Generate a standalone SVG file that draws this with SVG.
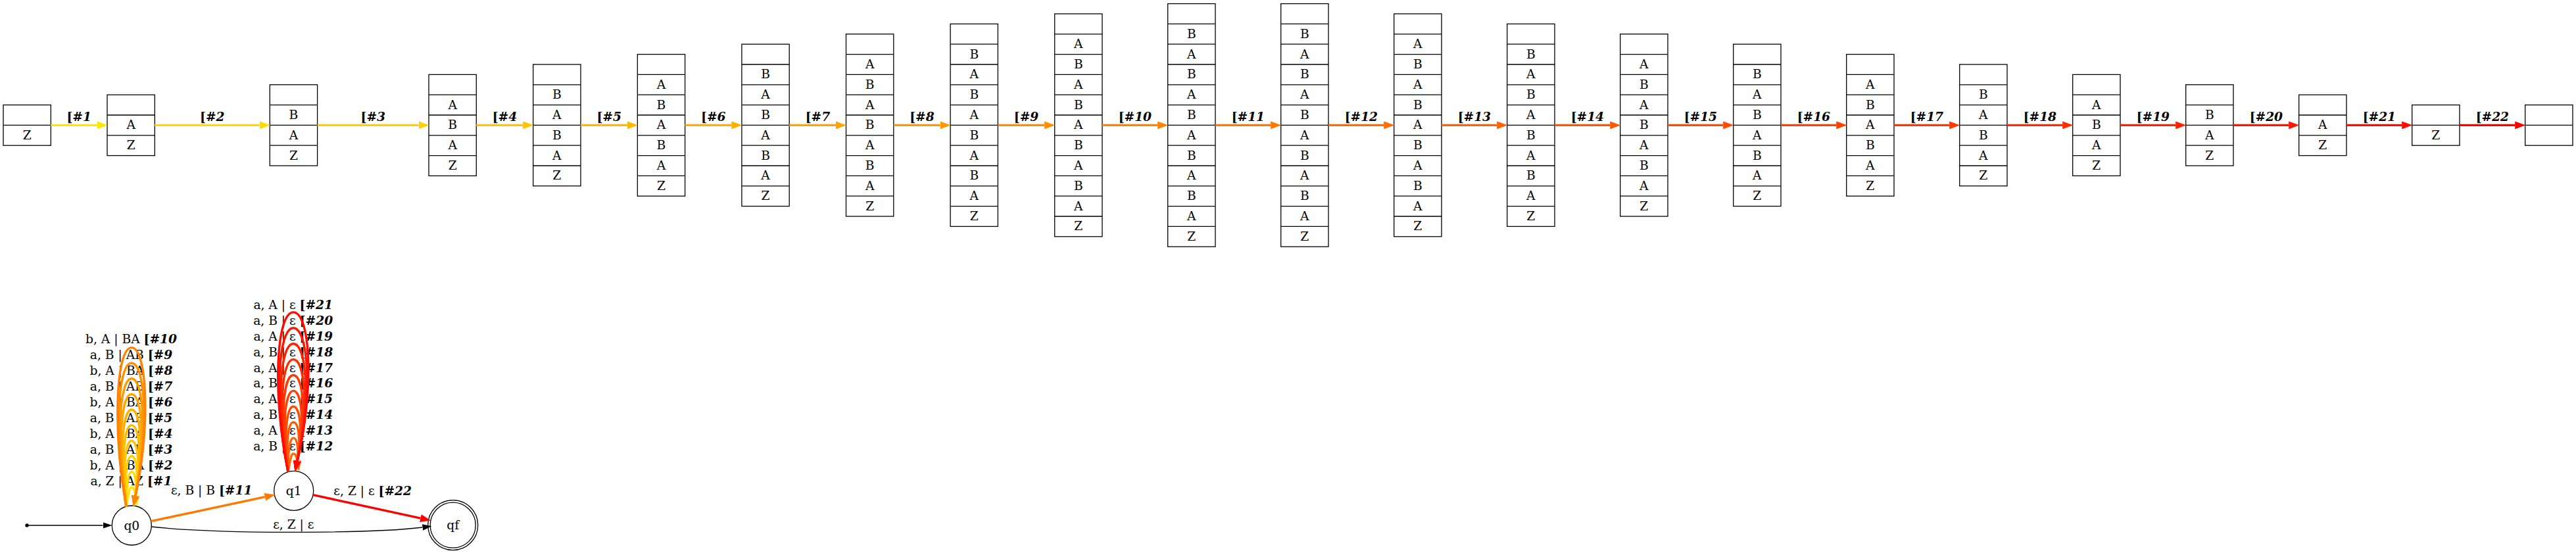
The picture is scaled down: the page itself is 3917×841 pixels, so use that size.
<svg xmlns="http://www.w3.org/2000/svg" width="3917" height="841" viewBox="0 0 3917 841">
<style>
.box{fill:none;stroke:#000;stroke-width:1.3}
.dv{fill:none;stroke:#000;stroke-width:1.3}
text{font-family:"DejaVu Serif",serif;font-size:18.67px;fill:#000}
.t{text-anchor:middle}
.b{font-weight:bold}
.bi{font-weight:bold;font-style:italic}
.e{fill:none;stroke-width:3.4}
.k{fill:none;stroke:#000;stroke-width:1.3}
.n{fill:none;stroke:#000;stroke-width:1.3}
.c1{stroke:#FFE600}.c2{stroke:#FFDB00}.c3{stroke:#FFD000}.c4{stroke:#FFC500}.c5{stroke:#FFBA00}.c6{stroke:#FFAF00}.c7{stroke:#FFA400}.c8{stroke:#FF9900}.c9{stroke:#FF8E00}.c10{stroke:#FF8300}.c11{stroke:#FF7800}
.c12{stroke:#FF6D00}.c13{stroke:#FF6200}.c14{stroke:#FF5700}.c15{stroke:#FF4C00}.c16{stroke:#FF4100}.c17{stroke:#FF3700}.c18{stroke:#FF2C00}.c19{stroke:#FF2100}.c20{stroke:#FF1600}.c21{stroke:#FF0B00}.c22{stroke:#FF0000}
</style>
<defs>
<marker id="m1" viewBox="0 0 16 12" refX="0" refY="6" markerWidth="16" markerHeight="12" markerUnits="userSpaceOnUse" orient="auto"><path d="M0,0L16,6L0,12z" fill="#FFE600"/></marker>
<marker id="m2" viewBox="0 0 16 12" refX="0" refY="6" markerWidth="16" markerHeight="12" markerUnits="userSpaceOnUse" orient="auto"><path d="M0,0L16,6L0,12z" fill="#FFDB00"/></marker>
<marker id="m3" viewBox="0 0 16 12" refX="0" refY="6" markerWidth="16" markerHeight="12" markerUnits="userSpaceOnUse" orient="auto"><path d="M0,0L16,6L0,12z" fill="#FFD000"/></marker>
<marker id="m4" viewBox="0 0 16 12" refX="0" refY="6" markerWidth="16" markerHeight="12" markerUnits="userSpaceOnUse" orient="auto"><path d="M0,0L16,6L0,12z" fill="#FFC500"/></marker>
<marker id="m5" viewBox="0 0 16 12" refX="0" refY="6" markerWidth="16" markerHeight="12" markerUnits="userSpaceOnUse" orient="auto"><path d="M0,0L16,6L0,12z" fill="#FFBA00"/></marker>
<marker id="m6" viewBox="0 0 16 12" refX="0" refY="6" markerWidth="16" markerHeight="12" markerUnits="userSpaceOnUse" orient="auto"><path d="M0,0L16,6L0,12z" fill="#FFAF00"/></marker>
<marker id="m7" viewBox="0 0 16 12" refX="0" refY="6" markerWidth="16" markerHeight="12" markerUnits="userSpaceOnUse" orient="auto"><path d="M0,0L16,6L0,12z" fill="#FFA400"/></marker>
<marker id="m8" viewBox="0 0 16 12" refX="0" refY="6" markerWidth="16" markerHeight="12" markerUnits="userSpaceOnUse" orient="auto"><path d="M0,0L16,6L0,12z" fill="#FF9900"/></marker>
<marker id="m9" viewBox="0 0 16 12" refX="0" refY="6" markerWidth="16" markerHeight="12" markerUnits="userSpaceOnUse" orient="auto"><path d="M0,0L16,6L0,12z" fill="#FF8E00"/></marker>
<marker id="m10" viewBox="0 0 16 12" refX="0" refY="6" markerWidth="16" markerHeight="12" markerUnits="userSpaceOnUse" orient="auto"><path d="M0,0L16,6L0,12z" fill="#FF8300"/></marker>
<marker id="m11" viewBox="0 0 16 12" refX="0" refY="6" markerWidth="16" markerHeight="12" markerUnits="userSpaceOnUse" orient="auto"><path d="M0,0L16,6L0,12z" fill="#FF7800"/></marker>
<marker id="m12" viewBox="0 0 16 12" refX="0" refY="6" markerWidth="16" markerHeight="12" markerUnits="userSpaceOnUse" orient="auto"><path d="M0,0L16,6L0,12z" fill="#FF6D00"/></marker>
<marker id="m13" viewBox="0 0 16 12" refX="0" refY="6" markerWidth="16" markerHeight="12" markerUnits="userSpaceOnUse" orient="auto"><path d="M0,0L16,6L0,12z" fill="#FF6200"/></marker>
<marker id="m14" viewBox="0 0 16 12" refX="0" refY="6" markerWidth="16" markerHeight="12" markerUnits="userSpaceOnUse" orient="auto"><path d="M0,0L16,6L0,12z" fill="#FF5700"/></marker>
<marker id="m15" viewBox="0 0 16 12" refX="0" refY="6" markerWidth="16" markerHeight="12" markerUnits="userSpaceOnUse" orient="auto"><path d="M0,0L16,6L0,12z" fill="#FF4C00"/></marker>
<marker id="m16" viewBox="0 0 16 12" refX="0" refY="6" markerWidth="16" markerHeight="12" markerUnits="userSpaceOnUse" orient="auto"><path d="M0,0L16,6L0,12z" fill="#FF4100"/></marker>
<marker id="m17" viewBox="0 0 16 12" refX="0" refY="6" markerWidth="16" markerHeight="12" markerUnits="userSpaceOnUse" orient="auto"><path d="M0,0L16,6L0,12z" fill="#FF3700"/></marker>
<marker id="m18" viewBox="0 0 16 12" refX="0" refY="6" markerWidth="16" markerHeight="12" markerUnits="userSpaceOnUse" orient="auto"><path d="M0,0L16,6L0,12z" fill="#FF2C00"/></marker>
<marker id="m19" viewBox="0 0 16 12" refX="0" refY="6" markerWidth="16" markerHeight="12" markerUnits="userSpaceOnUse" orient="auto"><path d="M0,0L16,6L0,12z" fill="#FF2100"/></marker>
<marker id="m20" viewBox="0 0 16 12" refX="0" refY="6" markerWidth="16" markerHeight="12" markerUnits="userSpaceOnUse" orient="auto"><path d="M0,0L16,6L0,12z" fill="#FF1600"/></marker>
<marker id="m21" viewBox="0 0 16 12" refX="0" refY="6" markerWidth="16" markerHeight="12" markerUnits="userSpaceOnUse" orient="auto"><path d="M0,0L16,6L0,12z" fill="#FF0B00"/></marker>
<marker id="m22" viewBox="0 0 16 12" refX="0" refY="6" markerWidth="16" markerHeight="12" markerUnits="userSpaceOnUse" orient="auto"><path d="M0,0L16,6L0,12z" fill="#FF0000"/></marker>
<marker id="mk" viewBox="0 0 14 9.4" refX="0" refY="4.7" markerWidth="14" markerHeight="9.4" markerUnits="userSpaceOnUse" orient="auto"><path d="M0,0L14,4.7L0,9.4z" fill="#000"/></marker>
</defs>
<rect width="3917" height="841" fill="#fff"/>

<g id="stacks">
<g id="st1" transform="translate(5,159.6)"><rect class="box" width="72.3" height="61.6"/><path class="dv" d="M0,30.8h72.3"/><text class="t" x="36.15" y="52.2">Z</text></g>
<g id="st2" transform="translate(163,144.2)"><rect class="box" width="72.3" height="92.4"/><path class="dv" d="M0,30.8h72.3M0,61.6h72.3"/><text class="t" x="36.15" y="52.2">A</text><text class="t" x="36.15" y="83">Z</text></g>
<g id="st3" transform="translate(410.3,128.8)"><rect class="box" width="72.3" height="123.2"/><path class="dv" d="M0,30.8h72.3M0,61.6h72.3M0,92.4h72.3"/><text class="t" x="36.15" y="52.2">B</text><text class="t" x="36.15" y="83">A</text><text class="t" x="36.15" y="113.8">Z</text></g>
<g id="st4" transform="translate(652,113.4)"><rect class="box" width="72.3" height="154"/><path class="dv" d="M0,30.8h72.3M0,61.6h72.3M0,92.4h72.3M0,123.2h72.3"/><text class="t" x="36.15" y="52.2">A</text><text class="t" x="36.15" y="83">B</text><text class="t" x="36.15" y="113.8">A</text><text class="t" x="36.15" y="144.6">Z</text></g>
<g id="st5" transform="translate(810.7,98)"><rect class="box" width="72.3" height="184.8"/><path class="dv" d="M0,30.8h72.3M0,61.6h72.3M0,92.4h72.3M0,123.2h72.3M0,154h72.3"/><text class="t" x="36.15" y="52.2">B</text><text class="t" x="36.15" y="83">A</text><text class="t" x="36.15" y="113.8">B</text><text class="t" x="36.15" y="144.6">A</text><text class="t" x="36.15" y="175.4">Z</text></g>
<g id="st6" transform="translate(969.3,82.6)"><rect class="box" width="72.3" height="215.6"/><path class="dv" d="M0,30.8h72.3M0,61.6h72.3M0,92.4h72.3M0,123.2h72.3M0,154h72.3M0,184.8h72.3"/><text class="t" x="36.15" y="52.2">A</text><text class="t" x="36.15" y="83">B</text><text class="t" x="36.15" y="113.8">A</text><text class="t" x="36.15" y="144.6">B</text><text class="t" x="36.15" y="175.4">A</text><text class="t" x="36.15" y="206.2">Z</text></g>
<g id="st7" transform="translate(1127.9,67.2)"><rect class="box" width="72.3" height="246.4"/><path class="dv" d="M0,30.8h72.3M0,61.6h72.3M0,92.4h72.3M0,123.2h72.3M0,154h72.3M0,184.8h72.3M0,215.6h72.3"/><text class="t" x="36.15" y="52.2">B</text><text class="t" x="36.15" y="83">A</text><text class="t" x="36.15" y="113.8">B</text><text class="t" x="36.15" y="144.6">A</text><text class="t" x="36.15" y="175.4">B</text><text class="t" x="36.15" y="206.2">A</text><text class="t" x="36.15" y="237">Z</text></g>
<g id="st8" transform="translate(1286.5,51.8)"><rect class="box" width="72.3" height="277.2"/><path class="dv" d="M0,30.8h72.3M0,61.6h72.3M0,92.4h72.3M0,123.2h72.3M0,154h72.3M0,184.8h72.3M0,215.6h72.3M0,246.4h72.3"/><text class="t" x="36.15" y="52.2">A</text><text class="t" x="36.15" y="83">B</text><text class="t" x="36.15" y="113.8">A</text><text class="t" x="36.15" y="144.6">B</text><text class="t" x="36.15" y="175.4">A</text><text class="t" x="36.15" y="206.2">B</text><text class="t" x="36.15" y="237">A</text><text class="t" x="36.15" y="267.8">Z</text></g>
<g id="st9" transform="translate(1445.1,36.4)"><rect class="box" width="72.3" height="308"/><path class="dv" d="M0,30.8h72.3M0,61.6h72.3M0,92.4h72.3M0,123.2h72.3M0,154h72.3M0,184.8h72.3M0,215.6h72.3M0,246.4h72.3M0,277.2h72.3"/><text class="t" x="36.15" y="52.2">B</text><text class="t" x="36.15" y="83">A</text><text class="t" x="36.15" y="113.8">B</text><text class="t" x="36.15" y="144.6">A</text><text class="t" x="36.15" y="175.4">B</text><text class="t" x="36.15" y="206.2">A</text><text class="t" x="36.15" y="237">B</text><text class="t" x="36.15" y="267.8">A</text><text class="t" x="36.15" y="298.6">Z</text></g>
<g id="st10" transform="translate(1603.7,21)"><rect class="box" width="72.3" height="338.8"/><path class="dv" d="M0,30.8h72.3M0,61.6h72.3M0,92.4h72.3M0,123.2h72.3M0,154h72.3M0,184.8h72.3M0,215.6h72.3M0,246.4h72.3M0,277.2h72.3M0,308h72.3"/><text class="t" x="36.15" y="52.2">A</text><text class="t" x="36.15" y="83">B</text><text class="t" x="36.15" y="113.8">A</text><text class="t" x="36.15" y="144.6">B</text><text class="t" x="36.15" y="175.4">A</text><text class="t" x="36.15" y="206.2">B</text><text class="t" x="36.15" y="237">A</text><text class="t" x="36.15" y="267.8">B</text><text class="t" x="36.15" y="298.6">A</text><text class="t" x="36.15" y="329.4">Z</text></g>
<g id="st11" transform="translate(1775.7,5.6)"><rect class="box" width="72.3" height="369.6"/><path class="dv" d="M0,30.8h72.3M0,61.6h72.3M0,92.4h72.3M0,123.2h72.3M0,154h72.3M0,184.8h72.3M0,215.6h72.3M0,246.4h72.3M0,277.2h72.3M0,308h72.3M0,338.8h72.3"/><text class="t" x="36.15" y="52.2">B</text><text class="t" x="36.15" y="83">A</text><text class="t" x="36.15" y="113.8">B</text><text class="t" x="36.15" y="144.6">A</text><text class="t" x="36.15" y="175.4">B</text><text class="t" x="36.15" y="206.2">A</text><text class="t" x="36.15" y="237">B</text><text class="t" x="36.15" y="267.8">A</text><text class="t" x="36.15" y="298.6">B</text><text class="t" x="36.15" y="329.4">A</text><text class="t" x="36.15" y="360.2">Z</text></g>
<g id="st12" transform="translate(1947.7,5.6)"><rect class="box" width="72.3" height="369.6"/><path class="dv" d="M0,30.8h72.3M0,61.6h72.3M0,92.4h72.3M0,123.2h72.3M0,154h72.3M0,184.8h72.3M0,215.6h72.3M0,246.4h72.3M0,277.2h72.3M0,308h72.3M0,338.8h72.3"/><text class="t" x="36.15" y="52.2">B</text><text class="t" x="36.15" y="83">A</text><text class="t" x="36.15" y="113.8">B</text><text class="t" x="36.15" y="144.6">A</text><text class="t" x="36.15" y="175.4">B</text><text class="t" x="36.15" y="206.2">A</text><text class="t" x="36.15" y="237">B</text><text class="t" x="36.15" y="267.8">A</text><text class="t" x="36.15" y="298.6">B</text><text class="t" x="36.15" y="329.4">A</text><text class="t" x="36.15" y="360.2">Z</text></g>
<g id="st13" transform="translate(2119.7,21)"><rect class="box" width="72.3" height="338.8"/><path class="dv" d="M0,30.8h72.3M0,61.6h72.3M0,92.4h72.3M0,123.2h72.3M0,154h72.3M0,184.8h72.3M0,215.6h72.3M0,246.4h72.3M0,277.2h72.3M0,308h72.3"/><text class="t" x="36.15" y="52.2">A</text><text class="t" x="36.15" y="83">B</text><text class="t" x="36.15" y="113.8">A</text><text class="t" x="36.15" y="144.6">B</text><text class="t" x="36.15" y="175.4">A</text><text class="t" x="36.15" y="206.2">B</text><text class="t" x="36.15" y="237">A</text><text class="t" x="36.15" y="267.8">B</text><text class="t" x="36.15" y="298.6">A</text><text class="t" x="36.15" y="329.4">Z</text></g>
<g id="st14" transform="translate(2291.7,36.4)"><rect class="box" width="72.3" height="308"/><path class="dv" d="M0,30.8h72.3M0,61.6h72.3M0,92.4h72.3M0,123.2h72.3M0,154h72.3M0,184.8h72.3M0,215.6h72.3M0,246.4h72.3M0,277.2h72.3"/><text class="t" x="36.15" y="52.2">B</text><text class="t" x="36.15" y="83">A</text><text class="t" x="36.15" y="113.8">B</text><text class="t" x="36.15" y="144.6">A</text><text class="t" x="36.15" y="175.4">B</text><text class="t" x="36.15" y="206.2">A</text><text class="t" x="36.15" y="237">B</text><text class="t" x="36.15" y="267.8">A</text><text class="t" x="36.15" y="298.6">Z</text></g>
<g id="st15" transform="translate(2463.7,51.8)"><rect class="box" width="72.3" height="277.2"/><path class="dv" d="M0,30.8h72.3M0,61.6h72.3M0,92.4h72.3M0,123.2h72.3M0,154h72.3M0,184.8h72.3M0,215.6h72.3M0,246.4h72.3"/><text class="t" x="36.15" y="52.2">A</text><text class="t" x="36.15" y="83">B</text><text class="t" x="36.15" y="113.8">A</text><text class="t" x="36.15" y="144.6">B</text><text class="t" x="36.15" y="175.4">A</text><text class="t" x="36.15" y="206.2">B</text><text class="t" x="36.15" y="237">A</text><text class="t" x="36.15" y="267.8">Z</text></g>
<g id="st16" transform="translate(2635.7,67.2)"><rect class="box" width="72.3" height="246.4"/><path class="dv" d="M0,30.8h72.3M0,61.6h72.3M0,92.4h72.3M0,123.2h72.3M0,154h72.3M0,184.8h72.3M0,215.6h72.3"/><text class="t" x="36.15" y="52.2">B</text><text class="t" x="36.15" y="83">A</text><text class="t" x="36.15" y="113.8">B</text><text class="t" x="36.15" y="144.6">A</text><text class="t" x="36.15" y="175.4">B</text><text class="t" x="36.15" y="206.2">A</text><text class="t" x="36.15" y="237">Z</text></g>
<g id="st17" transform="translate(2807.7,82.6)"><rect class="box" width="72.3" height="215.6"/><path class="dv" d="M0,30.8h72.3M0,61.6h72.3M0,92.4h72.3M0,123.2h72.3M0,154h72.3M0,184.8h72.3"/><text class="t" x="36.15" y="52.2">A</text><text class="t" x="36.15" y="83">B</text><text class="t" x="36.15" y="113.8">A</text><text class="t" x="36.15" y="144.6">B</text><text class="t" x="36.15" y="175.4">A</text><text class="t" x="36.15" y="206.2">Z</text></g>
<g id="st18" transform="translate(2979.7,98)"><rect class="box" width="72.3" height="184.8"/><path class="dv" d="M0,30.8h72.3M0,61.6h72.3M0,92.4h72.3M0,123.2h72.3M0,154h72.3"/><text class="t" x="36.15" y="52.2">B</text><text class="t" x="36.15" y="83">A</text><text class="t" x="36.15" y="113.8">B</text><text class="t" x="36.15" y="144.6">A</text><text class="t" x="36.15" y="175.4">Z</text></g>
<g id="st19" transform="translate(3151.7,113.4)"><rect class="box" width="72.3" height="154"/><path class="dv" d="M0,30.8h72.3M0,61.6h72.3M0,92.4h72.3M0,123.2h72.3"/><text class="t" x="36.15" y="52.2">A</text><text class="t" x="36.15" y="83">B</text><text class="t" x="36.15" y="113.8">A</text><text class="t" x="36.15" y="144.6">Z</text></g>
<g id="st20" transform="translate(3323.7,128.8)"><rect class="box" width="72.3" height="123.2"/><path class="dv" d="M0,30.8h72.3M0,61.6h72.3M0,92.4h72.3"/><text class="t" x="36.15" y="52.2">B</text><text class="t" x="36.15" y="83">A</text><text class="t" x="36.15" y="113.8">Z</text></g>
<g id="st21" transform="translate(3495.7,144.2)"><rect class="box" width="72.3" height="92.4"/><path class="dv" d="M0,30.8h72.3M0,61.6h72.3"/><text class="t" x="36.15" y="52.2">A</text><text class="t" x="36.15" y="83">Z</text></g>
<g id="st22" transform="translate(3667.7,159.6)"><rect class="box" width="72.3" height="61.6"/><path class="dv" d="M0,30.8h72.3"/><text class="t" x="36.15" y="52.2">Z</text></g>
<g id="st23" transform="translate(3839.7,159.6)"><rect class="box" width="72.3" height="61.6"/><path class="dv" d="M0,30.8h72.3"/></g>
</g>

<g id="states">
<g id="start"><circle cx="41" cy="799" r="2.7" fill="#000"/></g>
<g id="q0"><circle class="n" cx="200.3" cy="799" r="30"/><text class="t" x="200.3" y="805.5">q0</text></g>
<g id="q1"><circle class="n" cx="446.7" cy="746.3" r="30"/><text class="t" x="446.7" y="752.8">q1</text></g>
<g id="qf"><circle class="n" cx="688.7" cy="798.7" r="34.5"/><circle class="n" cx="688.7" cy="798.7" r="38"/><text class="t" x="688.7" y="805.2">qf</text></g>
</g>

<g id="connectors">
<g id="top-edges">
<path class="e c1" d="M77.3,190.4H147.5" marker-end="url(#m1)"/><text class="t" x="120.2" y="183.5"><tspan class="b">[</tspan><tspan class="bi">#1</tspan></text>
<path class="e c2" d="M235.3,190.4H394.8" marker-end="url(#m2)"/><text class="t" x="322.8" y="183.5"><tspan class="b">[</tspan><tspan class="bi">#2</tspan></text>
<path class="e c3" d="M482.6,190.4H636.5" marker-end="url(#m3)"/><text class="t" x="567.3" y="183.5"><tspan class="b">[</tspan><tspan class="bi">#3</tspan></text>
<path class="e c4" d="M724.3,190.4H795.2" marker-end="url(#m4)"/><text class="t" x="767.5" y="183.5"><tspan class="b">[</tspan><tspan class="bi">#4</tspan></text>
<path class="e c5" d="M883,190.4H953.8" marker-end="url(#m5)"/><text class="t" x="926.2" y="183.5"><tspan class="b">[</tspan><tspan class="bi">#5</tspan></text>
<path class="e c6" d="M1041.6,190.4H1112.4" marker-end="url(#m6)"/><text class="t" x="1084.8" y="183.5"><tspan class="b">[</tspan><tspan class="bi">#6</tspan></text>
<path class="e c7" d="M1200.2,190.4H1271" marker-end="url(#m7)"/><text class="t" x="1243.4" y="183.5"><tspan class="b">[</tspan><tspan class="bi">#7</tspan></text>
<path class="e c8" d="M1358.8,190.4H1429.6" marker-end="url(#m8)"/><text class="t" x="1402" y="183.5"><tspan class="b">[</tspan><tspan class="bi">#8</tspan></text>
<path class="e c9" d="M1517.4,190.4H1588.2" marker-end="url(#m9)"/><text class="t" x="1560.6" y="183.5"><tspan class="b">[</tspan><tspan class="bi">#9</tspan></text>
<path class="e c10" d="M1676,190.4H1760.2" marker-end="url(#m10)"/><text class="t" x="1725.9" y="183.5"><tspan class="b">[</tspan><tspan class="bi">#10</tspan></text>
<path class="e c11" d="M1848,190.4H1932.2" marker-end="url(#m11)"/><text class="t" x="1897.9" y="183.5"><tspan class="b">[</tspan><tspan class="bi">#11</tspan></text>
<path class="e c12" d="M2020,190.4H2104.2" marker-end="url(#m12)"/><text class="t" x="2069.9" y="183.5"><tspan class="b">[</tspan><tspan class="bi">#12</tspan></text>
<path class="e c13" d="M2192,190.4H2276.2" marker-end="url(#m13)"/><text class="t" x="2241.9" y="183.5"><tspan class="b">[</tspan><tspan class="bi">#13</tspan></text>
<path class="e c14" d="M2364,190.4H2448.2" marker-end="url(#m14)"/><text class="t" x="2413.9" y="183.5"><tspan class="b">[</tspan><tspan class="bi">#14</tspan></text>
<path class="e c15" d="M2536,190.4H2620.2" marker-end="url(#m15)"/><text class="t" x="2585.9" y="183.5"><tspan class="b">[</tspan><tspan class="bi">#15</tspan></text>
<path class="e c16" d="M2708,190.4H2792.2" marker-end="url(#m16)"/><text class="t" x="2757.9" y="183.5"><tspan class="b">[</tspan><tspan class="bi">#16</tspan></text>
<path class="e c17" d="M2880,190.4H2964.2" marker-end="url(#m17)"/><text class="t" x="2929.9" y="183.5"><tspan class="b">[</tspan><tspan class="bi">#17</tspan></text>
<path class="e c18" d="M3052,190.4H3136.2" marker-end="url(#m18)"/><text class="t" x="3101.9" y="183.5"><tspan class="b">[</tspan><tspan class="bi">#18</tspan></text>
<path class="e c19" d="M3224,190.4H3308.2" marker-end="url(#m19)"/><text class="t" x="3273.9" y="183.5"><tspan class="b">[</tspan><tspan class="bi">#19</tspan></text>
<path class="e c20" d="M3396,190.4H3480.2" marker-end="url(#m20)"/><text class="t" x="3445.9" y="183.5"><tspan class="b">[</tspan><tspan class="bi">#20</tspan></text>
<path class="e c21" d="M3568,190.4H3652.2" marker-end="url(#m21)"/><text class="t" x="3617.9" y="183.5"><tspan class="b">[</tspan><tspan class="bi">#21</tspan></text>
<path class="e c22" d="M3740,190.4H3824.2" marker-end="url(#m22)"/><text class="t" x="3789.9" y="183.5"><tspan class="b">[</tspan><tspan class="bi">#22</tspan></text>
</g>

<g id="automaton-edges">
<path class="k" d="M41,799H156.5" marker-end="url(#mk)"/>
<g id="t1"><path class="e c1" d="M192,770.5C195,755.75 196.15,741 200,741C203.85,741 205,747.5 206,754" marker-end="url(#m1)"/><text class="t" x="199.5" y="738">a, Z | AZ <tspan class="b">[</tspan><tspan class="bi">#1</tspan></text></g>
<g id="t2"><path class="e c2" d="M192,770.5C192.25,743.95 194.04,717.4 200,717.4C205.96,717.4 207.75,735.7 206,754" marker-end="url(#m2)"/><text class="t" x="199.5" y="714">b, A | BA <tspan class="b">[</tspan><tspan class="bi">#2</tspan></text></g>
<g id="t3"><path class="e c3" d="M192,770.5C189.5,732.15 191.92,693.8 200,693.8C208.08,693.8 210.5,723.9 206,754" marker-end="url(#m3)"/><text class="t" x="199.5" y="690">a, B | AB <tspan class="b">[</tspan><tspan class="bi">#3</tspan></text></g>
<g id="t4"><path class="e c4" d="M192,770.5C186.74,720.35 189.8,670.2 200,670.2C210.2,670.2 213.26,712.1 206,754" marker-end="url(#m4)"/><text class="t" x="199.5" y="666">b, A | BA <tspan class="b">[</tspan><tspan class="bi">#4</tspan></text></g>
<g id="t5"><path class="e c5" d="M192,770.5C183.99,708.55 187.68,646.6 200,646.6C212.32,646.6 216.01,700.3 206,754" marker-end="url(#m5)"/><text class="t" x="199.5" y="642">a, B | AB <tspan class="b">[</tspan><tspan class="bi">#5</tspan></text></g>
<g id="t6"><path class="e c6" d="M192,770.5C181.23,696.75 185.56,623 200,623C214.44,623 218.77,688.5 206,754" marker-end="url(#m6)"/><text class="t" x="199.5" y="618">b, A | BA <tspan class="b">[</tspan><tspan class="bi">#6</tspan></text></g>
<g id="t7"><path class="e c7" d="M192,770.5C178.48,684.95 183.45,599.4 200,599.4C216.55,599.4 221.52,676.7 206,754" marker-end="url(#m7)"/><text class="t" x="199.5" y="594">a, B | AB <tspan class="b">[</tspan><tspan class="bi">#7</tspan></text></g>
<g id="t8"><path class="e c8" d="M192,770.5C175.73,673.15 181.33,575.8 200,575.8C218.67,575.8 224.27,664.9 206,754" marker-end="url(#m8)"/><text class="t" x="199.5" y="570">b, A | BA <tspan class="b">[</tspan><tspan class="bi">#8</tspan></text></g>
<g id="t9"><path class="e c9" d="M192,770.5C172.97,661.35 179.21,552.2 200,552.2C220.79,552.2 227.03,653.1 206,754" marker-end="url(#m9)"/><text class="t" x="199.5" y="546">a, B | AB <tspan class="b">[</tspan><tspan class="bi">#9</tspan></text></g>
<g id="t10"><path class="e c10" d="M192,770.5C170.22,649.55 177.09,528.6 200,528.6C222.91,528.6 229.78,641.3 206,754" marker-end="url(#m10)"/><text class="t" x="199.5" y="522">b, A | BA <tspan class="b">[</tspan><tspan class="bi">#10</tspan></text></g>
<g id="t11"><path class="e c11" d="M229.6,792.7L402.9,755.7" marker-end="url(#m11)"/><text class="t" x="321.7" y="751.5">ε, B | B <tspan class="b">[</tspan><tspan class="bi">#11</tspan></text></g>
<g id="t12"><path class="e c12" d="M438,717.5C441,703.75 442.15,690 446,690C449.85,690 451,695.5 452,701" marker-end="url(#m12)"/><text class="t" x="445.7" y="685">a, B | ε <tspan class="b">[</tspan><tspan class="bi">#12</tspan></text></g>
<g id="t13"><path class="e c13" d="M438,717.5C437.89,691.8 439.76,666.1 446,666.1C452.24,666.1 454.11,683.55 452,701" marker-end="url(#m13)"/><text class="t" x="445.7" y="661.1">a, A | ε <tspan class="b">[</tspan><tspan class="bi">#13</tspan></text></g>
<g id="t14"><path class="e c14" d="M438,717.5C434.79,679.85 437.38,642.2 446,642.2C454.62,642.2 457.21,671.6 452,701" marker-end="url(#m14)"/><text class="t" x="445.7" y="637.2">a, B | ε <tspan class="b">[</tspan><tspan class="bi">#14</tspan></text></g>
<g id="t15"><path class="e c15" d="M438,717.5C431.69,667.9 434.99,618.3 446,618.3C457.01,618.3 460.31,659.65 452,701" marker-end="url(#m15)"/><text class="t" x="445.7" y="613.3">a, A | ε <tspan class="b">[</tspan><tspan class="bi">#15</tspan></text></g>
<g id="t16"><path class="e c16" d="M438,717.5C428.58,655.95 432.6,594.4 446,594.4C459.4,594.4 463.42,647.7 452,701" marker-end="url(#m16)"/><text class="t" x="445.7" y="589.4">a, B | ε <tspan class="b">[</tspan><tspan class="bi">#16</tspan></text></g>
<g id="t17"><path class="e c17" d="M438,717.5C425.47,644 430.21,570.5 446,570.5C461.79,570.5 466.53,635.75 452,701" marker-end="url(#m17)"/><text class="t" x="445.7" y="565.5">a, A | ε <tspan class="b">[</tspan><tspan class="bi">#17</tspan></text></g>
<g id="t18"><path class="e c18" d="M438,717.5C422.37,632.05 427.82,546.6 446,546.6C464.18,546.6 469.63,623.8 452,701" marker-end="url(#m18)"/><text class="t" x="445.7" y="541.6">a, B | ε <tspan class="b">[</tspan><tspan class="bi">#18</tspan></text></g>
<g id="t19"><path class="e c19" d="M438,717.5C419.27,620.1 425.44,522.7 446,522.7C466.56,522.7 472.73,611.85 452,701" marker-end="url(#m19)"/><text class="t" x="445.7" y="517.7">a, A | ε <tspan class="b">[</tspan><tspan class="bi">#19</tspan></text></g>
<g id="t20"><path class="e c20" d="M438,717.5C416.16,608.15 423.05,498.8 446,498.8C468.95,498.8 475.84,599.9 452,701" marker-end="url(#m20)"/><text class="t" x="445.7" y="493.8">a, B | ε <tspan class="b">[</tspan><tspan class="bi">#20</tspan></text></g>
<g id="t21"><path class="e c21" d="M438,717.5C413.06,596.2 420.66,474.9 446,474.9C471.34,474.9 478.94,587.95 452,701" marker-end="url(#m21)"/><text class="t" x="445.7" y="469.9">a, A | ε <tspan class="b">[</tspan><tspan class="bi">#21</tspan></text></g>
<g id="t22"><path class="e c22" d="M476,752.7L639.4,788.1" marker-end="url(#m22)"/><text class="t" x="566.7" y="753">ε, Z | ε <tspan class="b">[</tspan><tspan class="bi">#22</tspan></text></g>
<g id="t0"><path class="k" d="M230,801C330,812 560,812 642.5,802" marker-end="url(#mk)"/><text class="t" x="446.3" y="804">ε, Z | ε</text></g>
</g>
</g>
</svg>
